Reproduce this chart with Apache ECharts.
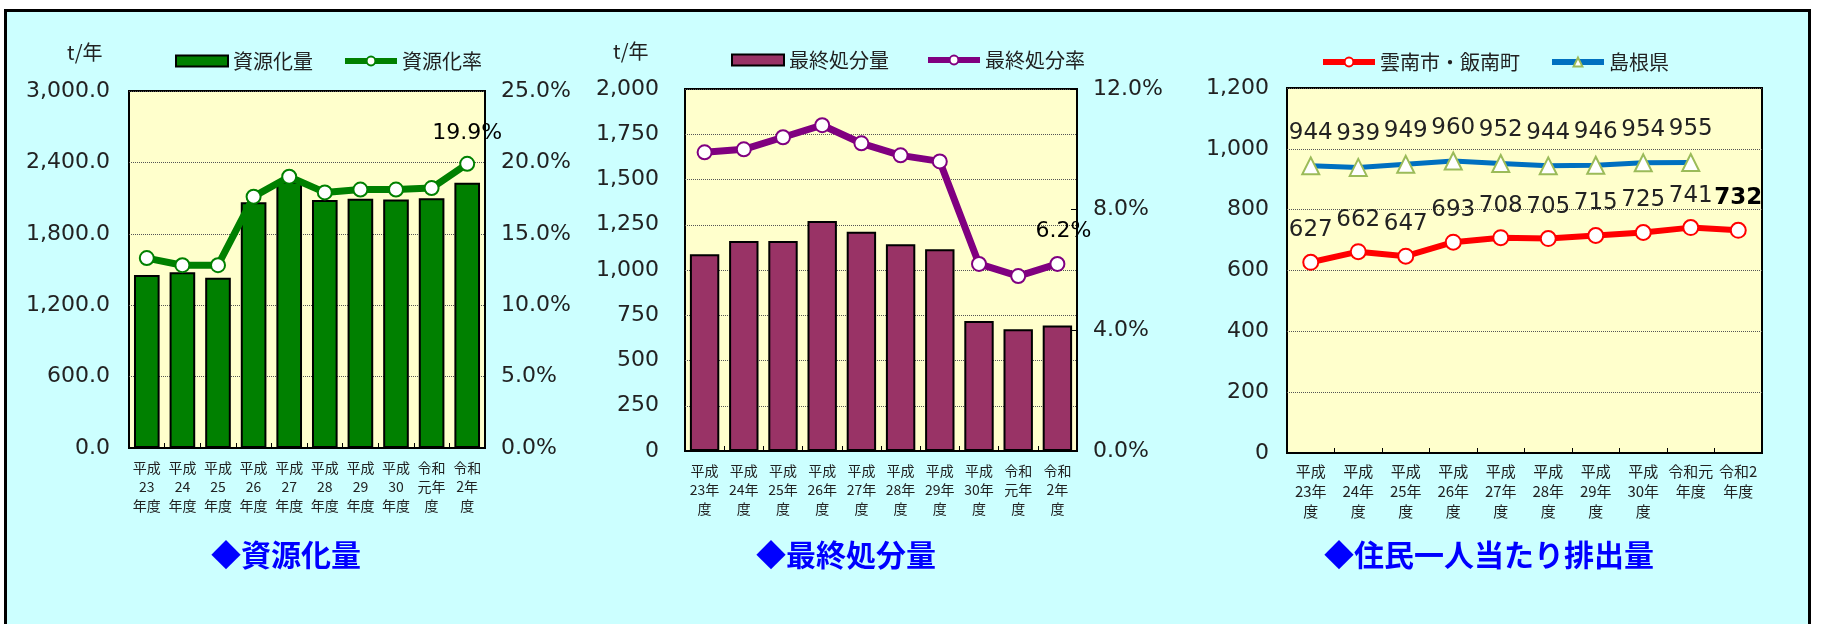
<!DOCTYPE html>
<html>
<head>
<meta charset="utf-8">
<script src="https://cdn.jsdelivr.net/npm/echarts@6/dist/echarts.min.js"></script>
<style>
  html, body { margin: 0; padding: 0; background: #fff; }
  #box {
    position: absolute; left: 4px; top: 9px; width: 1807px; height: 640px;
    box-sizing: border-box; border: 3px solid #000; background: #CCFFFF;
  }
  #main { position: absolute; left: 0; top: 0; width: 1821px; height: 624px; }
</style>
</head>
<body>
<div id="box"></div>
<div id="main"></div>
<script>
// 年度ラベル
var categories1 = ['平成\n23\n年度', '平成\n24\n年度', '平成\n25\n年度', '平成\n26\n年度', '平成\n27\n年度',
  '平成\n28\n年度', '平成\n29\n年度', '平成\n30\n年度', '令和\n元年\n度', '令和\n2年\n度'];
var categories2 = ['平成\n23年\n度', '平成\n24年\n度', '平成\n25年\n度', '平成\n26年\n度', '平成\n27年\n度',
  '平成\n28年\n度', '平成\n29年\n度', '平成\n30年\n度', '令和\n元年\n度', '令和\n2年\n度'];
var categories3 = ['平成\n23年\n度', '平成\n24年\n度', '平成\n25年\n度', '平成\n26年\n度', '平成\n27年\n度',
  '平成\n28年\n度', '平成\n29年\n度', '平成\n30年\n度', '令和元\n年度', '令和2\n年度'];

// 資源化量 (t/年) と 資源化率 (%)
var resourceAmount = [1454, 1476, 1431, 2065, 2240, 2084, 2095, 2089, 2098, 2229];
var resourceRate = [13.3, 12.8, 12.8, 17.6, 19.0, 17.9, 18.1, 18.1, 18.2, 19.9];

// 最終処分量 (t/年) と 最終処分率 (%)
var landfillAmount = [1087, 1160, 1160, 1271, 1212, 1142, 1114, 718, 672, 694];
var landfillRate = [9.9, 10.0, 10.4, 10.8, 10.2, 9.8, 9.6, 6.2, 5.8, 6.2];

// 住民一人当たり排出量
var perCapitaLocal = [627, 662, 647, 693, 708, 705, 715, 725, 741, 732];
var perCapitaPref = [944, 939, 949, 960, 952, 944, 946, 954, 955, null];

var chart = echarts.init(document.getElementById('main'), null, { renderer: 'canvas' });

var jp = '"Noto Sans CJK JP", sans-serif';
var num = '"DejaVu Sans", sans-serif';
var txt = '#222';

function catAxis(grid, data, size, lh, margin) {
  return {
    type: 'category', gridIndex: grid, data: data,
    axisLine: { lineStyle: { color: '#000', width: 2 } },
    axisTick: { show: true, inside: true, length: 5, lineStyle: { color: '#000' } },
    axisLabel: { fontFamily: jp, fontSize: size, lineHeight: lh, color: txt, margin: margin, interval: 0 }
  };
}

function valAxis(grid, max, interval, fmt, margin, grid_lines) {
  return {
    type: 'value', gridIndex: grid, min: 0, max: max, interval: interval,
    axisLine: { show: false }, axisTick: { show: false },
    axisLabel: { fontFamily: num, fontSize: 22, color: txt, margin: margin, formatter: fmt },
    splitLine: { show: grid_lines, lineStyle: { color: '#555', type: 'dotted', width: 1 } }
  };
}

function legendAt(left, top, gap, names) {
  return {
    left: left, top: top, itemWidth: 52, itemHeight: 11, itemGap: gap,
    lineStyle: { width: 6 },
    textStyle: { fontFamily: jp, fontSize: 20, color: txt },
    data: names
  };
}

function comma(v) { return v.toLocaleString('en-US'); }

function lastLabel(arr, fmt) {
  return function (p) { return p.dataIndex === arr.length - 1 ? fmt(p.value) : ''; };
}

var option = {
  animation: false,
  grid: [
    { left: 129, top: 91, width: 356, height: 357, show: true, backgroundColor: '#FFFFCC', borderColor: '#000', borderWidth: 2 },
    { left: 685, top: 89, width: 392, height: 362, show: true, backgroundColor: '#FFFFCC', borderColor: '#000', borderWidth: 2 },
    { left: 1287, top: 88, width: 475, height: 365, show: true, backgroundColor: '#FFFFCC', borderColor: '#000', borderWidth: 2 }
  ],
  legend: [
    legendAt(170, 46, 29, [{ name: '資源化量', icon: 'rect' }, '資源化率']),
    legendAt(726, 45, 36, [{ name: '最終処分量', icon: 'rect' }, '最終処分率']),
    legendAt(1315, 47, 29, ['雲南市・飯南町', '島根県'])
  ],
  xAxis: [
    catAxis(0, categories1, 14, 19, 10),
    catAxis(1, categories2, 14, 19, 10),
    catAxis(2, categories3, 15, 20, 8)
  ],
  yAxis: [
    valAxis(0, 3000, 600, function (v) { return comma(v) + '.0'; }, 19, true),
    valAxis(0, 25, 5, function (v) { return v.toFixed(1) + '%'; }, 16, false),
    valAxis(1, 2000, 250, comma, 26, true),
    Object.assign(valAxis(1, 12, 4, function (v) { return v.toFixed(1) + '%'; }, 16, false),
      { axisTick: { show: true, inside: true, length: 6, lineStyle: { color: '#000' } } }),
    valAxis(2, 1200, 200, comma, 18, true)
  ],
  series: [
    {
      name: '資源化量', type: 'bar', xAxisIndex: 0, yAxisIndex: 0, barWidth: '72%',
      itemStyle: { color: '#008000', borderColor: '#000', borderWidth: 2 },
      data: resourceAmount
    },
    {
      name: '資源化率', type: 'line', xAxisIndex: 0, yAxisIndex: 1,
      symbol: 'circle', symbolSize: 14,
      lineStyle: { color: '#008000', width: 7 },
      itemStyle: { color: '#fff', borderColor: '#008000', borderWidth: 2 },
      label: { show: true, position: 'top', distance: 12, fontFamily: num, fontSize: 22, color: '#000',
        formatter: lastLabel(resourceRate, function (v) { return v.toFixed(1) + '%'; }) },
      data: resourceRate
    },
    {
      name: '最終処分量', type: 'bar', xAxisIndex: 1, yAxisIndex: 2, barWidth: '75%',
      itemStyle: { color: '#993366', borderColor: '#000', borderWidth: 2 },
      data: landfillAmount
    },
    {
      name: '最終処分率', type: 'line', xAxisIndex: 1, yAxisIndex: 3,
      symbol: 'circle', symbolSize: 14,
      lineStyle: { color: '#800080', width: 7 },
      itemStyle: { color: '#fff', borderColor: '#800080', borderWidth: 2 },
      label: { show: true, position: 'top', distance: 14, offset: [6, 0], fontFamily: num, fontSize: 22, color: '#000',
        formatter: lastLabel(landfillRate, function (v) { return v.toFixed(1) + '%'; }) },
      data: landfillRate
    },
    {
      name: '雲南市・飯南町', type: 'line', xAxisIndex: 2, yAxisIndex: 4,
      symbol: 'circle', symbolSize: 15,
      lineStyle: { color: '#FF0000', width: 6 },
      itemStyle: { color: '#fff', borderColor: '#FF0000', borderWidth: 2 },
      label: { show: true, position: 'top', distance: 12, fontFamily: num, fontSize: 23, color: txt,
        formatter: function (p) {
          return p.dataIndex === perCapitaLocal.length - 1 ? '{b|' + p.value + '}' : String(p.value);
        },
        rich: { b: { fontFamily: num, fontSize: 23, fontWeight: 'bold', color: '#000' } } },
      data: perCapitaLocal
    },
    {
      name: '島根県', type: 'line', xAxisIndex: 2, yAxisIndex: 4,
      symbol: 'triangle', symbolSize: 17,
      lineStyle: { color: '#0070C0', width: 5 },
      itemStyle: { color: '#fff', borderColor: '#9BBB59', borderWidth: 2 },
      label: { show: true, position: 'top', distance: 12, fontFamily: num, fontSize: 23, color: txt },
      data: perCapitaPref
    }
  ],
  graphic: [
    { type: 'text', left: 67, top: 42, style: { text: 't/年', font: '20px ' + jp, fill: txt } },
    { type: 'text', left: 613, top: 41, style: { text: 't/年', font: '20px ' + jp, fill: txt } },
    { type: 'text', x: 286, y: 555, style: { text: '◆資源化量', font: 'bold 30px ' + jp, fill: '#0000FF', align: 'center', verticalAlign: 'middle' } },
    { type: 'text', x: 846, y: 555, style: { text: '◆最終処分量', font: 'bold 30px ' + jp, fill: '#0000FF', align: 'center', verticalAlign: 'middle' } },
    { type: 'text', x: 1489, y: 555, style: { text: '◆住民一人当たり排出量', font: 'bold 30px ' + jp, fill: '#0000FF', align: 'center', verticalAlign: 'middle' } }
  ]
};

chart.setOption(option);
</script>
</body>
</html>
